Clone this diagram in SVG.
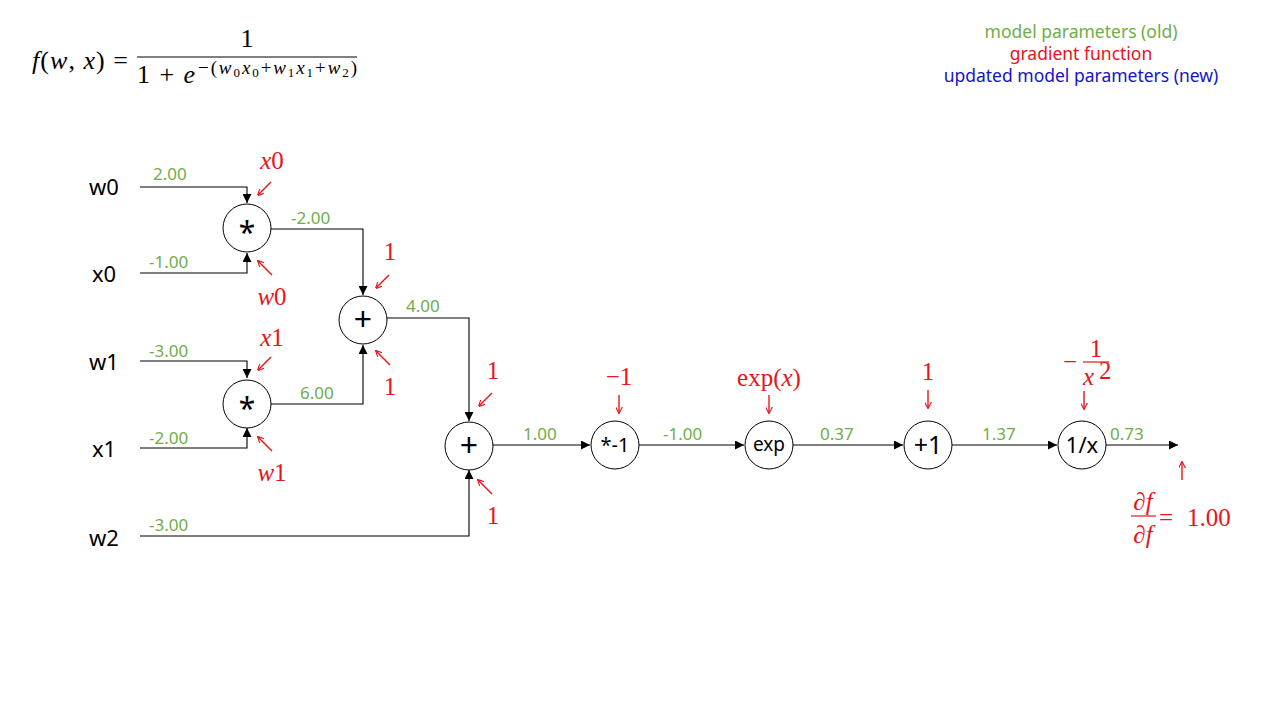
<svg xmlns="http://www.w3.org/2000/svg" width="1280" height="720" viewBox="0 0 1280 720">
<defs>
<marker id="ah" viewBox="0 0 10 10" refX="10" refY="5" markerWidth="9" markerHeight="9" markerUnits="userSpaceOnUse" orient="auto"><path d="M0,0 L10,5 L0,10 z" fill="#000"/></marker>
<marker id="rh" viewBox="0 0 10 10" refX="9" refY="5" markerWidth="7" markerHeight="7" markerUnits="userSpaceOnUse" orient="auto"><path d="M0,0 L10,5 L0,10" fill="none" stroke="#e8141b" stroke-width="1.6"/></marker>
<style>
.n{fill:#fff;stroke:#000;stroke-width:1}
.op{font-family:"Noto Sans","Open Sans",sans-serif;fill:#000;text-anchor:middle}
.in{font-family:"Noto Sans","Open Sans",sans-serif;font-size:22px;fill:#000;text-anchor:middle}
.v{font-family:"Noto Sans","Open Sans",sans-serif;font-size:17px;fill:#70ad47}
.c{fill:none;stroke:#000;stroke-width:1.1}
.r{font-family:"Liberation Serif","DejaVu Serif",serif;font-size:25px;fill:#e8141b;text-anchor:middle}
.rs{font-family:"Liberation Serif","DejaVu Serif",serif;font-size:25px;fill:#e8141b;text-anchor:start}
.ri{font-style:italic}
.ra{stroke:#e8141b;stroke-width:1.4;fill:none}
.m{font-family:"Liberation Serif","DejaVu Serif",serif;fill:#000}
.lg{font-family:"Noto Sans","Open Sans",sans-serif;font-size:17.5px;text-anchor:middle}
</style>
</defs>
<rect width="1280" height="720" fill="#fff"/>

<g id="formula">
<text class="m" x="32" y="69" font-size="26" textLength="96"><tspan font-style="italic">f</tspan>(<tspan font-style="italic">w</tspan>, <tspan font-style="italic">x</tspan>) =</text>
<line x1="137" y1="57" x2="357" y2="57" stroke="#000" stroke-width="1"/>
<text class="m" x="247" y="47" font-size="26" text-anchor="middle">1</text>
<text class="m" x="137" y="83" font-size="26" textLength="58">1 + <tspan font-style="italic">e</tspan></text>
<text class="m" x="198" y="74" font-size="19" textLength="159">−(<tspan font-style="italic">w</tspan><tspan font-size="13" dy="3">0</tspan><tspan font-style="italic" dy="-3">x</tspan><tspan font-size="13" dy="3">0</tspan><tspan dy="-3">+</tspan><tspan font-style="italic">w</tspan><tspan font-size="13" dy="3">1</tspan><tspan font-style="italic" dy="-3">x</tspan><tspan font-size="13" dy="3">1</tspan><tspan dy="-3">+</tspan><tspan font-style="italic">w</tspan><tspan font-size="13" dy="3">2</tspan><tspan dy="-3">)</tspan></text>
</g>

<g id="legend">
<text class="lg" x="1081" y="38" fill="#70ad47">model parameters (old)</text>
<text class="lg" x="1081" y="60" fill="#e8141b">gradient function</text>
<text class="lg" x="1081" y="82" fill="#1414c8">updated model parameters (new)</text>
</g>

<g id="connectors">
<path class="c" d="M140,187 H247 V203" marker-end="url(#ah)"/>
<path class="c" d="M140,273 H247 V253" marker-end="url(#ah)"/>
<path class="c" d="M271,229 H363 V295" marker-end="url(#ah)"/>
<path class="c" d="M140,361 H247 V378" marker-end="url(#ah)"/>
<path class="c" d="M140,448 H247 V428" marker-end="url(#ah)"/>
<path class="c" d="M271,404 H363 V345" marker-end="url(#ah)"/>
<path class="c" d="M387,318 H469 V421" marker-end="url(#ah)"/>
<path class="c" d="M140,536 H469 V470" marker-end="url(#ah)"/>
<path class="c" d="M493,445 H590" marker-end="url(#ah)"/>
<path class="c" d="M639,445 H744" marker-end="url(#ah)"/>
<path class="c" d="M793,445 H903" marker-end="url(#ah)"/>
<path class="c" d="M952,445 H1057" marker-end="url(#ah)"/>
<path class="c" d="M1106,445 H1178" marker-end="url(#ah)"/>
</g>

<g id="input-labels">
<text class="in" x="104" y="195">w0</text>
<text class="in" x="104" y="282">x0</text>
<text class="in" x="104" y="370">w1</text>
<text class="in" x="104" y="457">x1</text>
<text class="in" x="104" y="546">w2</text>
</g>

<g id="values">
<text class="v" x="153" y="180">2.00</text>
<text class="v" x="149" y="268">-1.00</text>
<text class="v" x="291" y="224">-2.00</text>
<text class="v" x="149" y="357">-3.00</text>
<text class="v" x="149" y="444">-2.00</text>
<text class="v" x="300" y="399">6.00</text>
<text class="v" x="406" y="312">4.00</text>
<text class="v" x="523" y="440">1.00</text>
<text class="v" x="663" y="440">-1.00</text>
<text class="v" x="820" y="440">0.37</text>
<text class="v" x="982" y="440">1.37</text>
<text class="v" x="1110" y="440">0.73</text>
<text class="v" x="149" y="531">-3.00</text>
</g>

<g id="mul0"><circle class="n" cx="247" cy="228" r="24"/><text class="op" x="247" y="243" font-size="30">*</text></g>
<g id="add0"><circle class="n" cx="363" cy="320" r="24"/><text class="op" x="363" y="331" font-size="32">+</text></g>
<g id="mul1"><circle class="n" cx="247" cy="404" r="24"/><text class="op" x="247" y="419" font-size="30">*</text></g>
<g id="add1"><circle class="n" cx="469" cy="446" r="24"/><text class="op" x="469" y="457" font-size="32">+</text></g>
<g id="neg"><circle class="n" cx="615" cy="445" r="24"/><text class="op" x="615" y="452" font-size="20">*-1</text></g>
<g id="exp"><circle class="n" cx="769" cy="445" r="24"/><text class="op" x="769" y="451" font-size="19">exp</text></g>
<g id="plus1"><circle class="n" cx="928" cy="445" r="24"/><text class="op" x="928" y="454" font-size="25">+1</text></g>
<g id="recip"><circle class="n" cx="1082" cy="445" r="24"/><text class="op" x="1082" y="453" font-size="22">1/x</text></g>

<g id="gradients">
<text class="r ri" x="272" y="169">x<tspan font-style="normal">0</tspan></text>
<line class="ra" x1="271" y1="182" x2="258" y2="195" marker-end="url(#rh)"/>
<line class="ra" x1="272" y1="275" x2="258" y2="261" marker-end="url(#rh)"/>
<text class="r ri" x="272" y="305">w<tspan font-style="normal">0</tspan></text>

<text class="r" x="390" y="260">1</text>
<line class="ra" x1="389" y1="275" x2="376" y2="288" marker-end="url(#rh)"/>
<line class="ra" x1="390" y1="365" x2="376" y2="351" marker-end="url(#rh)"/>
<text class="r" x="390" y="395">1</text>

<text class="r ri" x="272" y="346">x<tspan font-style="normal">1</tspan></text>
<line class="ra" x1="271" y1="357" x2="258" y2="370" marker-end="url(#rh)"/>
<line class="ra" x1="272" y1="451" x2="258" y2="437" marker-end="url(#rh)"/>
<text class="r ri" x="272" y="481">w<tspan font-style="normal">1</tspan></text>

<text class="r" x="493" y="379">1</text>
<line class="ra" x1="492" y1="393" x2="479" y2="406" marker-end="url(#rh)"/>
<line class="ra" x1="492" y1="494" x2="478" y2="480" marker-end="url(#rh)"/>
<text class="r" x="493" y="524">1</text>

<text class="r" x="619" y="385">−1</text>
<line class="ra" x1="619" y1="395" x2="619" y2="413" marker-end="url(#rh)"/>

<text class="r" x="769" y="386">exp(<tspan font-style="italic">x</tspan>)</text>
<line class="ra" x1="769" y1="395" x2="769" y2="413" marker-end="url(#rh)"/>

<text class="r" x="928" y="380">1</text>
<line class="ra" x1="928" y1="390" x2="928" y2="408" marker-end="url(#rh)"/>

<text class="r" x="1070" y="370">−</text>
<text class="r" x="1096" y="357" font-size="22">1</text>
<line x1="1083" y1="362" x2="1109" y2="362" stroke="#e8141b" stroke-width="1.2"/>
<text class="rs ri" x="1083" y="385" font-size="23">x</text>
<text class="rs" x="1099" y="379" font-size="13">2</text>
<line class="ra" x1="1084" y1="391" x2="1084" y2="409" marker-end="url(#rh)"/>

<line class="ra" x1="1182" y1="480" x2="1182" y2="462" marker-end="url(#rh)"/>
<text class="r ri" x="1143" y="510">∂f</text>
<line x1="1131" y1="516" x2="1156" y2="516" stroke="#e8141b" stroke-width="1.2"/>
<text class="r ri" x="1143" y="543">∂f</text>
<text class="rs" x="1159" y="526" font-size="27">=</text>
<text class="rs" x="1187" y="526">1.00</text>
</g>
</svg>
